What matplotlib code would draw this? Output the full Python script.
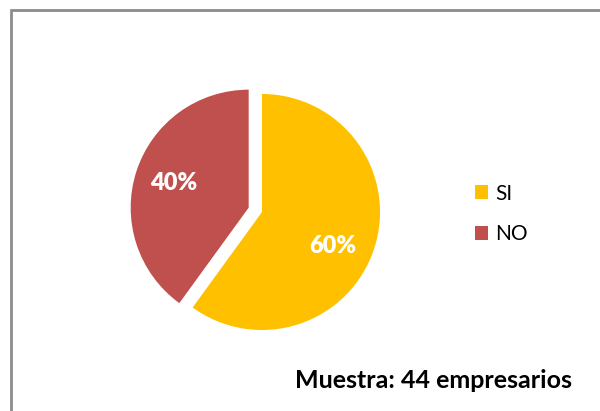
import matplotlib
matplotlib.use("Agg")
import matplotlib.pyplot as plt
from matplotlib.patches import Rectangle

categories = ["SI", "NO"]
values = [60, 40]
colors = ["#FFC000", "#C0504D"]
note = "Muestra: 44 empresarios"

plt.rcParams['font.family'] = ['Lato', 'DejaVu Sans']

W, H = 600, 411
fig = plt.figure(figsize=(W / 100, H / 100), dpi=100)
fig.patch.set_facecolor("white")

# outer frame (extends past right/bottom edges like the reference)
fig.patches.append(Rectangle((11 / W, -0.1), 1.2, 1 - 10 / H + 0.1,
                             transform=fig.transFigure, fill=False,
                             edgecolor="#8C8C8C", linewidth=2.0))

ax = fig.add_axes([0, 0, 1, 1])
ax.set_xlim(0, W)
ax.set_ylim(0, H)
ax.set_aspect('equal')
ax.axis('off')

r = 118
wedges, texts, autotexts = ax.pie(
    values, colors=colors, startangle=90, counterclock=False,
    center=(262, H - 212), radius=r, explode=[0, 14],
    autopct='%1.0f%%', pctdistance=0.67,
    wedgeprops=dict(linewidth=0),
    textprops=dict(color="white", fontsize=17, fontweight="heavy"))
# nudge the 60% label slightly lower, as in the reference
x0, y0 = autotexts[0].get_position()
autotexts[0].set_position((x0 - 4, y0 - 10))
ax.set_xlim(0, W)
ax.set_ylim(0, H)

ax.legend(wedges, categories, loc="center left",
          bbox_to_anchor=(456 / W, (H - 214) / H), frameon=False,
          fontsize=15, handlelength=0.65, handleheight=0.65,
          handletextpad=0.35, labelspacing=1.0)

fig.text(572 / W, (H - 380) / H, note, ha="right", va="center",
         fontsize=18, fontweight="bold", color="black")

fig.savefig("out.png", dpi=100)
